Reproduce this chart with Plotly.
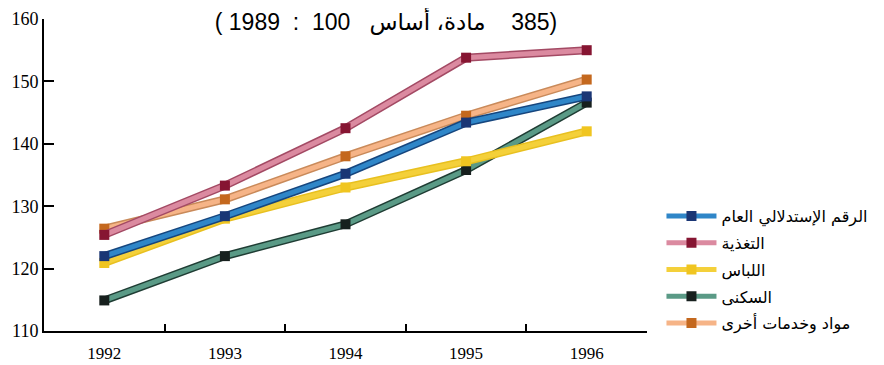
import plotly.graph_objects as go

years = ["1992", "1993", "1994", "1995", "1996"]
y_ticks = [110, 120, 130, 140, 150, 160]

names = ["الرقم الإستدلالي العام", "التغذية", "اللباس", "السكنى", "مواد وخدمات أخرى"]
general = [122.0, 128.4, 135.2, 143.4, 147.6]
food = [125.4, 133.3, 142.5, 153.8, 155.0]
clothing = [120.9, 128.0, 133.0, 137.2, 142.0]
housing = [114.9, 122.0, 127.1, 135.8, 146.6]
other = [126.4, 131.1, 138.0, 144.5, 150.3]

title_text = "\u202b(385    مادة، أساس   100  :  1989 )\u202c"

series = [
    # name, values, line colour, outline colour, marker colour, legend rank
    (names[3], housing, "#5a9a86", "#1f3d34", "#17201e", 4),
    (names[2], clothing, "#f4d03a", "#e8c020", "#f0c520", 3),
    (names[4], other, "#f6b487", "#c98a5a", "#c4681e", 5),
    (names[0], general, "#2f86c8", "#16467e", "#1a3675", 1),
    (names[1], food, "#db8aa0", "#a34a64", "#861532", 2),
]

fig = go.Figure()
for name, vals, lc, oc, mc, rank in series:
    fig.add_trace(go.Scatter(
        x=years, y=vals, mode="lines", showlegend=False, hoverinfo="skip",
        line=dict(color=oc, width=8),
    ))
    fig.add_trace(go.Scatter(
        x=years, y=vals, mode="lines+markers", name=name, legendrank=rank,
        legendgroup=name,
        line=dict(color=lc, width=5),
        marker=dict(symbol="square", size=10, color=mc, line=dict(width=0)),
    ))

# page body has an 8px default margin, so the figure is offset by 8px
fig.update_layout(
    width=884, height=365,
    margin=dict(l=36, r=245, t=11, b=42, autoexpand=False),
    paper_bgcolor="white", plot_bgcolor="white",
    title=dict(text=title_text, x=378 / 884, xanchor="center", y=1 - 14 / 365,
               yanchor="middle", yref="container",
               font=dict(family="Liberation Sans, DejaVu Sans", size=23, color="black")),
    showlegend=True,
    legend=dict(x=1.024, y=0.423, xanchor="left", yanchor="top",
                font=dict(family="DejaVu Sans", size=16, color="black"),
                traceorder="grouped", tracegroupgap=3, itemwidth=50,
                bgcolor="rgba(0,0,0,0)"),
    xaxis=dict(type="category", range=[-0.5, 4.5], tickson="boundaries",
               ticks="inside", ticklen=7, tickwidth=2, tickcolor="black",
               showline=True, linecolor="black", linewidth=2, showgrid=False,
               automargin=False, ticklabelstandoff=6,
               tickfont=dict(family="Liberation Serif", size=17, color="black")),
    yaxis=dict(range=[110, 160], tickvals=y_ticks, ticks="inside", ticklen=10,
               tickwidth=2, tickcolor="black", showline=True, linecolor="black",
               linewidth=2, showgrid=False, zeroline=False, automargin=False,
               ticklabelstandoff=0,
               tickfont=dict(family="Liberation Serif", size=18, color="black")),
)

fig.write_html("out.html")
